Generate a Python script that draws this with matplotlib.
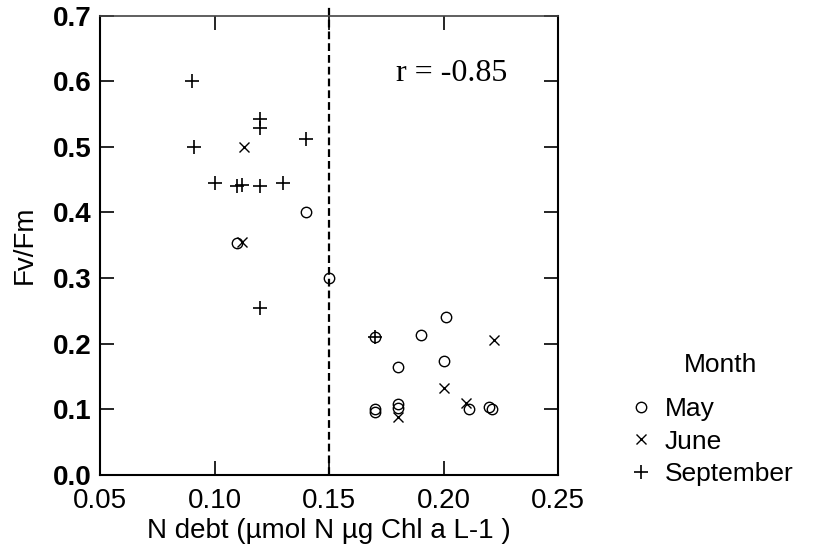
import matplotlib
matplotlib.use("Agg")
import matplotlib.pyplot as plt

plt.rcParams['font.family'] = ['Liberation Sans', 'DejaVu Sans']

# N debt vs Fv/Fm, grouped by sampling month
may_x = [0.14, 0.11, 0.15, 0.17, 0.19, 0.201, 0.18, 0.20, 0.211, 0.22, 0.221, 0.17, 0.17, 0.18, 0.18]
may_y = [0.40, 0.354, 0.30, 0.21, 0.213, 0.24, 0.165, 0.173, 0.10, 0.103, 0.10, 0.101, 0.096, 0.108, 0.102]

june_x = [0.113, 0.112, 0.222, 0.20, 0.21, 0.18]
june_y = [0.50, 0.355, 0.205, 0.132, 0.109, 0.088]

sept_x = [0.09, 0.12, 0.12, 0.14, 0.091, 0.10, 0.110, 0.112, 0.12, 0.13, 0.12, 0.17]
sept_y = [0.60, 0.542, 0.529, 0.512, 0.50, 0.445, 0.441, 0.442, 0.44, 0.445, 0.254, 0.21]

threshold = 0.15
r_value = -0.85

xticks = [0.05, 0.10, 0.15, 0.20, 0.25]
yticks = [0.0, 0.1, 0.2, 0.3, 0.4, 0.5, 0.6, 0.7]

fig = plt.figure(figsize=(8.34, 5.5), dpi=100)
ax = fig.add_axes([100 / 834, 75 / 550, 458 / 834, 459.5 / 550])

ax.plot(may_x, may_y, linestyle='none', marker='o', markersize=7.5, markerfacecolor='none',
        markeredgecolor='black', markeredgewidth=1.0, label='May')
ax.plot(june_x, june_y, linestyle='none', marker='x', markersize=7.5,
        color='black', markeredgewidth=1.0, label='June')
ax.plot(sept_x, sept_y, linestyle='none', marker='+', markersize=10,
        color='black', markeredgewidth=1.2, label='September')

ax.axvline(threshold, ymin=0, ymax=1.022, color='black', linewidth=1.6,
           dashes=(3.5, 1.8), clip_on=False, zorder=1)

ax.text(0.2035, 0.5995, f'r = {r_value}', family=['Liberation Serif', 'DejaVu Serif'],
        fontsize=23, ha='center', va='baseline')

ax.set_xlim(0.05, 0.25)
ax.set_ylim(0.0, 0.7)
ax.set_xticks(xticks)
ax.set_yticks(yticks)
ax.set_xticklabels([f'{t:.2f}' for t in xticks], fontsize=20)
ax.set_yticklabels([f'{t:.1f}' for t in yticks], fontsize=20, fontweight='bold')
ax.tick_params(direction='in', length=10, width=1.2, top=True, right=True)
ax.tick_params(axis='x', pad=9)
ax.tick_params(axis='y', pad=6)
for side in ['left', 'bottom', 'right']:
    ax.spines[side].set_linewidth(1.5)
ax.spines['top'].set_linewidth(1.2)
ax.spines['top'].set_color('#444444')

ax.set_xlabel('N debt (µmol N µg Chl a L-1 )', fontsize=20, labelpad=3)
ax.set_ylabel('Fv/Fm', fontsize=20, labelpad=11)

fig.text(721 / 834, 1 - 365 / 550, 'Month', fontsize=19, ha='center', va='center')
fig.legend(loc='upper left', bbox_to_anchor=(628 / 834, 1 - 397 / 550), frameon=False,
           fontsize=19, handlelength=1.0, handletextpad=0.4, labelspacing=0.33,
           borderpad=0, borderaxespad=0)

fig.savefig('out.png', dpi=100)
